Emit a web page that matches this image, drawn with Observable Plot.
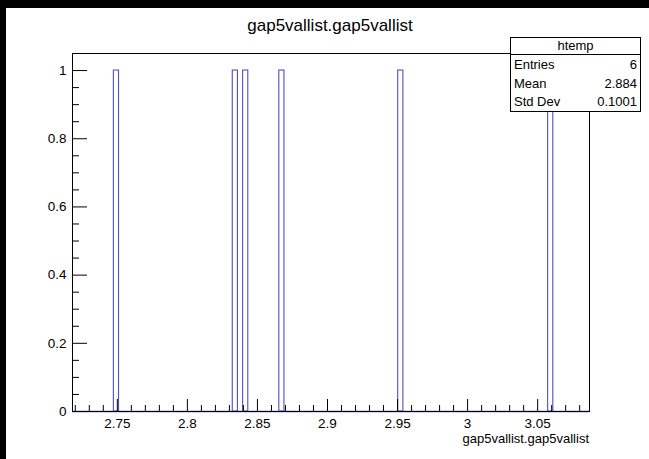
<!DOCTYPE html>
<html><head><meta charset="utf-8">
<script src="https://cdn.jsdelivr.net/npm/d3@7"></script>
<script src="https://cdn.jsdelivr.net/npm/@observablehq/plot@0.6"></script>
<style>
html,body{margin:0;padding:0;background:#fff;}
#wrap{position:relative;width:649px;height:459px;overflow:hidden;font-family:"Liberation Sans",Arial,sans-serif;}
#wrap svg{position:absolute;left:0;top:0;}
.abs{position:absolute;white-space:nowrap;color:#000;}
#stats{position:absolute;left:510px;top:37px;width:131px;height:75px;border:1px solid #000;background:#fff;font-size:13px;box-sizing:border-box;}
#stats .hd{height:16px;line-height:16px;text-align:center;border-bottom:1px solid #000;}
#stats .row{height:18.5px;line-height:19px;padding:0 3px;display:flex;justify-content:space-between;}
</style></head>
<body><div id="wrap"></div>
<script>
const title = "gap5vallist.gap5vallist";
const xLabel = "gap5vallist.gap5vallist";
const values = [2.7487, 2.8333, 2.8405, 2.8665, 2.9515, 3.0581];
const xDomain = [2.718, 3.087];
const yDomain = [0, 1.05];
const nBins = 100;
const xMajorTicks = [2.75, 2.8, 2.85, 2.9, 2.95, 3.0, 3.05];
const xMajorLabels = ["2.75", "2.8", "2.85", "2.9", "2.95", "3", "3.05"];
const xMinorTicks = [2.72,2.73,2.74,2.76,2.77,2.78,2.79,2.81,2.82,2.83,2.84,2.86,2.87,2.88,2.89,2.91,2.92,2.93,2.94,2.96,2.97,2.98,2.99,3.01,3.02,3.03,3.04,3.06,3.07,3.08];
const yMajorTicks = [0, 0.2, 0.4, 0.6, 0.8, 1];
const yMajorLabels = ["0", "0.2", "0.4", "0.6", "0.8", "1"];
const yMinorTicks = [0.05,0.1,0.15,0.25,0.3,0.35,0.45,0.5,0.55,0.65,0.7,0.75,0.85,0.9,0.95,1.05];
const statsName = "htemp";
const statsRows = [["Entries", "6"], ["Mean", "2.884"], ["Std Dev", "0.1001"]];

const binW = (xDomain[1] - xDomain[0]) / nBins;
const edges = d3.range(nBins + 1).map(i => xDomain[0] + i * binW);
const blue = "#4f4fc6";
const fmtX = d => xMajorLabels[xMajorTicks.findIndex(t => Math.abs(t - d) < 1e-9)];
const fmtY = d => yMajorLabels[yMajorTicks.findIndex(t => Math.abs(t - d) < 1e-9)];

const chart = Plot.plot({
  width: 649, height: 459,
  marginLeft: 72, marginRight: 60, marginTop: 53, marginBottom: 48,
  x: {domain: xDomain},
  y: {domain: yDomain},
  style: {fontFamily: "Liberation Sans, Arial, sans-serif", fontSize: "13px", background: "transparent"},
  marks: [
    Plot.rectY(values, Plot.binX({y: "count"}, {x: d => d, thresholds: edges, domain: xDomain, fill: "none", stroke: blue, strokeWidth: 1.1, inset: 0})),
    Plot.ruleY([0], {stroke: blue, strokeWidth: 1.5}),
    Plot.frame({stroke: "#000", strokeWidth: 1}),
    Plot.axisX(xMajorTicks, {tickSize: 12, dy: -12, tickFormat: () => "", label: null, stroke: "#000"}),
    Plot.axisX(xMinorTicks, {tickSize: 6, dy: -6, tickFormat: () => "", label: null, stroke: "#000"}),
    Plot.axisX(xMajorTicks, {tickSize: 0, tickPadding: 7, tickFormat: fmtX, label: null, fontSize: 13.5, fill: "#000"}),
    Plot.axisY(yMajorTicks, {tickSize: 15, dx: 15, tickFormat: () => "", label: null, stroke: "#000"}),
    Plot.axisY(yMinorTicks, {tickSize: 7, dx: 7, tickFormat: () => "", label: null, stroke: "#000"}),
    Plot.axisY(yMajorTicks, {tickSize: 0, tickPadding: 6, tickFormat: fmtY, label: null, fontSize: 13.5, fill: "#000"})
  ]
});

const wrap = document.getElementById("wrap");
wrap.appendChild(chart);

function addDiv(html, css, cls) {
  const d = document.createElement("div");
  d.className = cls || "abs";
  d.style.cssText += css;
  d.innerHTML = html;
  wrap.appendChild(d);
  return d;
}
// canvas border (top and left black bands)
addDiv("", "left:0;top:0;width:649px;height:8px;background:#000;");
addDiv("", "left:0;top:0;width:6px;height:459px;background:#000;");
// title
addDiv(title, "left:0;width:660px;top:16px;text-align:center;font-size:17px;");
// x label
addDiv(xLabel, "right:60px;top:431px;font-size:13px;");
// stats box
const st = document.createElement("div");
st.id = "stats";
st.innerHTML = `<div class="hd">${statsName}</div>` + statsRows.map(r => `<div class="row"><span>${r[0]}</span><span>${r[1]}</span></div>`).join("");
wrap.appendChild(st);
</script>
</body></html>
